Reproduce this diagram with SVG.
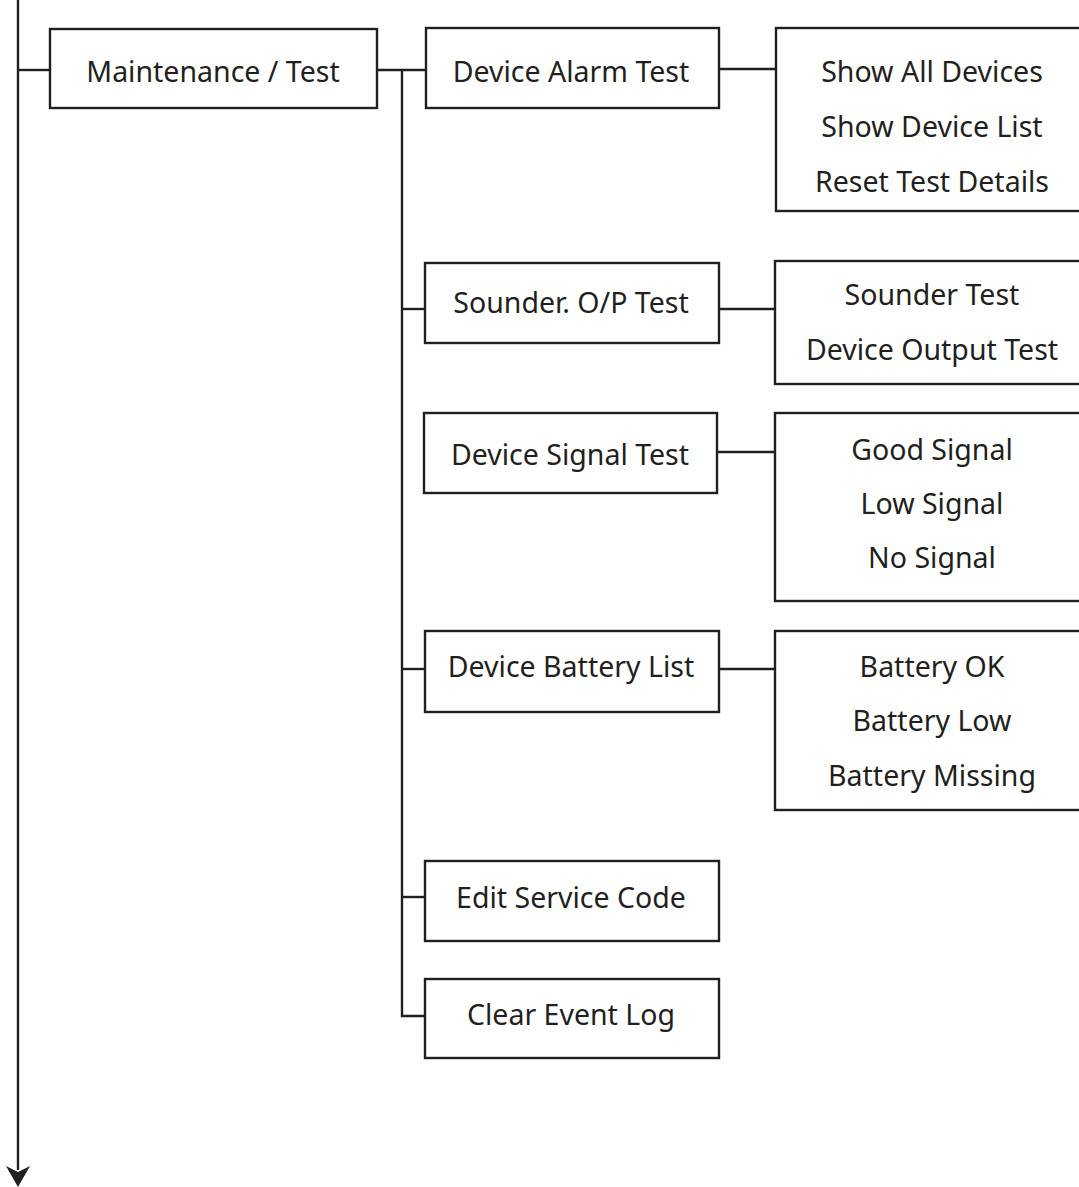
<svg xmlns="http://www.w3.org/2000/svg" width="1079" height="1187" viewBox="0 0 1079 1187">
<style>
.box{fill:#fff;stroke:#231f20;stroke-width:2.4}
.ln{fill:none;stroke:#231f20;stroke-width:2.4}
text{font-family:"Noto Sans","Open Sans",sans-serif;font-size:28.5px;fill:#231f20;text-anchor:middle}
</style>
<rect width="1079" height="1187" fill="#fff"/>
<g id="connectors">
<path class="ln" d="M18,0 V1170"/>
<path d="M6,1166 L18,1172 L30,1166 L18,1187 Z" fill="#231f20"/>
<path class="ln" d="M18,70 H50"/>
<path class="ln" d="M377,70 H426"/>
<path class="ln" d="M402,70 V1016 H426"/>
<path class="ln" d="M402,309 H425"/>
<path class="ln" d="M402,669 H425"/>
<path class="ln" d="M402,897 H425"/>
<path class="ln" d="M719,69 H776"/>
<path class="ln" d="M719,309 H775"/>
<path class="ln" d="M717,452 H775"/>
<path class="ln" d="M719,669 H775"/>
</g>
<g id="n-maint"><rect class="box" x="50" y="29" width="327" height="79"/><text x="213" y="82">Maintenance / Test</text></g>
<g id="n-alarm"><rect class="box" x="426" y="28" width="293" height="80"/><text x="571" y="82">Device Alarm Test</text></g>
<g id="n-alarm-sub"><rect class="box" x="776" y="28" width="320" height="183"/><text x="932" y="82">Show All Devices</text><text x="932" y="137">Show Device List</text><text x="932" y="192">Reset Test Details</text></g>
<g id="n-sounder"><rect class="box" x="425" y="263" width="294" height="80"/><text x="571" y="313">Sounder. O/P Test</text></g>
<g id="n-sounder-sub"><rect class="box" x="775" y="261" width="320" height="123"/><text x="932" y="305">Sounder Test</text><text x="932" y="360">Device Output Test</text></g>
<g id="n-signal"><rect class="box" x="424" y="413" width="293" height="80"/><text x="570" y="465">Device Signal Test</text></g>
<g id="n-signal-sub"><rect class="box" x="775" y="413" width="320" height="188"/><text x="932" y="460">Good Signal</text><text x="932" y="514">Low Signal</text><text x="932" y="568">No Signal</text></g>
<g id="n-battery"><rect class="box" x="425" y="631" width="294" height="81"/><text x="571" y="677">Device Battery List</text></g>
<g id="n-battery-sub"><rect class="box" x="775" y="631" width="320" height="179"/><text x="932" y="677">Battery OK</text><text x="932" y="731">Battery Low</text><text x="932" y="786">Battery Missing</text></g>
<g id="n-service"><rect class="box" x="425" y="861" width="294" height="80"/><text x="571" y="908">Edit Service Code</text></g>
<g id="n-clear"><rect class="box" x="425" y="979" width="294" height="79"/><text x="571" y="1025">Clear Event Log</text></g>
</svg>
